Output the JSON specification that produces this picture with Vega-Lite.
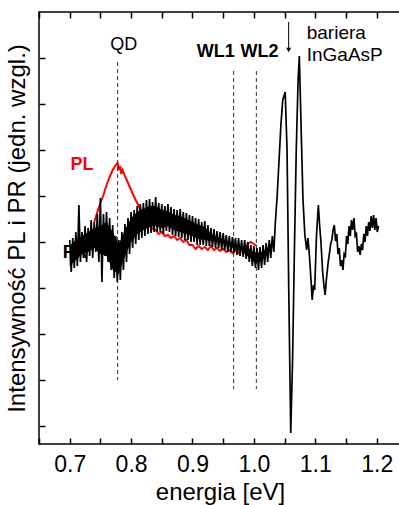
{
  "$schema": "https://vega.github.io/schema/vega-lite/v6.json",
  "width": 362,
  "height": 432,
  "autosize": "none",
  "padding": {"left": 39, "top": 12, "right": -2, "bottom": 61},
  "resolve": {"axis": {"x": "independent", "y": "independent"}},
  "config": {
    "view": {"stroke": "black", "strokeWidth": 1.5},
    "font": "Liberation Sans",
    "axis": {"domainColor": "black", "domainWidth": 1.5, "tickColor": "black", "tickWidth": 1.5, "tickOpacity": 1, "grid": false,
             "labelFont": "Liberation Sans", "titleFont": "Liberation Sans", "labelColor": "black", "titleColor": "black", "titleFontWeight": "normal"}
  },
  "datasets": {
    "pr": [
      {"e":0.700,"v":186},{"e":0.7025,"v":154},{"e":0.705,"v":188},{"e":0.7075,"v":158},{"e":0.710,"v":194},{"e":0.7125,"v":160},
      {"e":0.715,"v":221},{"e":0.7175,"v":164},{"e":0.720,"v":194},{"e":0.7225,"v":168},{"e":0.725,"v":200},{"e":0.7275,"v":164},
      {"e":0.730,"v":198},{"e":0.7325,"v":170},{"e":0.735,"v":206},{"e":0.7375,"v":168},{"e":0.740,"v":204},{"e":0.7425,"v":174},
      {"e":0.745,"v":212},{"e":0.7475,"v":164},{"e":0.750,"v":228},{"e":0.7525,"v":144},{"e":0.755,"v":212},{"e":0.7575,"v":170},
      {"e":0.760,"v":214},{"e":0.7625,"v":164},{"e":0.765,"v":208},{"e":0.7675,"v":156},{"e":0.770,"v":201},{"e":0.7725,"v":148},
      {"e":0.775,"v":190},{"e":0.7775,"v":144},{"e":0.780,"v":186},{"e":0.7825,"v":146},{"e":0.785,"v":194},{"e":0.7875,"v":156},
      {"e":0.790,"v":202},{"e":0.7925,"v":164},{"e":0.795,"v":208},{"e":0.7975,"v":172},{"e":0.800,"v":214},{"e":0.8025,"v":178},
      {"e":0.805,"v":216},{"e":0.8075,"v":182},{"e":0.810,"v":220},{"e":0.8125,"v":186},{"e":0.815,"v":222},{"e":0.8175,"v":188},
      {"e":0.820,"v":223},{"e":0.8225,"v":190},{"e":0.825,"v":226},{"e":0.8275,"v":192},{"e":0.830,"v":227},{"e":0.8325,"v":193},
      {"e":0.835,"v":224},{"e":0.8375,"v":194},{"e":0.840,"v":229},{"e":0.8425,"v":194},{"e":0.845,"v":223},{"e":0.8475,"v":194},
      {"e":0.850,"v":222},{"e":0.8525,"v":192},{"e":0.855,"v":220},{"e":0.8575,"v":195},{"e":0.860,"v":222},{"e":0.8625,"v":194},
      {"e":0.865,"v":219},{"e":0.8675,"v":191},{"e":0.870,"v":217},{"e":0.8725,"v":190},{"e":0.875,"v":216},{"e":0.8775,"v":189},
      {"e":0.880,"v":217},{"e":0.8825,"v":188},{"e":0.885,"v":214},{"e":0.8875,"v":186},{"e":0.890,"v":213},{"e":0.8925,"v":186},
      {"e":0.895,"v":211},{"e":0.8975,"v":184},{"e":0.900,"v":210},{"e":0.9025,"v":184},{"e":0.905,"v":208},{"e":0.9075,"v":181},
      {"e":0.910,"v":207},{"e":0.9125,"v":181},{"e":0.915,"v":204},{"e":0.9175,"v":181},{"e":0.920,"v":205},{"e":0.9225,"v":180},
      {"e":0.925,"v":201},{"e":0.9275,"v":180},{"e":0.930,"v":198},{"e":0.9325,"v":179},{"e":0.935,"v":197},{"e":0.9375,"v":178},
      {"e":0.940,"v":195},{"e":0.9425,"v":178},{"e":0.945,"v":194},{"e":0.9475,"v":176},{"e":0.950,"v":193},{"e":0.9525,"v":176},
      {"e":0.955,"v":191},{"e":0.9575,"v":174},{"e":0.960,"v":190},{"e":0.9625,"v":174},{"e":0.965,"v":189},{"e":0.9675,"v":173},
      {"e":0.970,"v":188},{"e":0.9725,"v":171},{"e":0.975,"v":188},{"e":0.9775,"v":170},{"e":0.980,"v":186},{"e":0.9825,"v":169},
      {"e":0.985,"v":186},{"e":0.9875,"v":167},{"e":0.990,"v":184},{"e":0.9925,"v":164},{"e":0.995,"v":181},{"e":0.9975,"v":160},
      {"e":1.000,"v":180},{"e":1.0025,"v":158},{"e":1.005,"v":178},{"e":1.0075,"v":156},{"e":1.010,"v":179},{"e":1.0125,"v":158},
      {"e":1.015,"v":181},{"e":1.0175,"v":161},{"e":1.020,"v":183},{"e":1.0225,"v":164},{"e":1.025,"v":186},{"e":1.0275,"v":168},
      {"e":1.030,"v":190},{"e":1.0325,"v":174},
      {"e":1.035,"v":204},{"e":1.038,"v":231},{"e":1.041,"v":266},{"e":1.044,"v":301},{"e":1.047,"v":326},{"e":1.051,"v":334},
      {"e":1.054,"v":276},{"e":1.057,"v":126},{"e":1.060,"v":-7},{"e":1.063,"v":66},{"e":1.066,"v":176},{"e":1.069,"v":276},
      {"e":1.072,"v":346},{"e":1.074,"v":370},{"e":1.077,"v":296},{"e":1.080,"v":226},{"e":1.083,"v":191},{"e":1.086,"v":176},
      {"e":1.088,"v":188},{"e":1.090,"v":174},{"e":1.092,"v":156},{"e":1.095,"v":126},{"e":1.097,"v":141},{"e":1.099,"v":136},
      {"e":1.102,"v":191},{"e":1.105,"v":221},{"e":1.107,"v":201},{"e":1.109,"v":186},{"e":1.112,"v":154},{"e":1.114,"v":141},
      {"e":1.116,"v":131},{"e":1.118,"v":146},{"e":1.121,"v":164},{"e":1.123,"v":172},{"e":1.125,"v":182},{"e":1.127,"v":186},
      {"e":1.129,"v":196},{"e":1.131,"v":201},{"e":1.133,"v":185},{"e":1.135,"v":192},{"e":1.137,"v":172},{"e":1.139,"v":178},
      {"e":1.141,"v":160},{"e":1.143,"v":166},{"e":1.145,"v":156},{"e":1.147,"v":172},{"e":1.149,"v":170},{"e":1.151,"v":190},
      {"e":1.153,"v":182},{"e":1.155,"v":200},{"e":1.157,"v":190},{"e":1.159,"v":206},{"e":1.161,"v":196},{"e":1.163,"v":208},
      {"e":1.165,"v":190},{"e":1.167,"v":192},{"e":1.169,"v":174},{"e":1.171,"v":180},{"e":1.173,"v":171},{"e":1.175,"v":182},
      {"e":1.177,"v":176},{"e":1.179,"v":192},{"e":1.181,"v":184},{"e":1.183,"v":200},{"e":1.185,"v":190},{"e":1.187,"v":204},
      {"e":1.189,"v":195},{"e":1.191,"v":210},{"e":1.193,"v":198},{"e":1.195,"v":211},{"e":1.197,"v":196},{"e":1.199,"v":208},
      {"e":1.201,"v":194},{"e":1.203,"v":200}
    ],
    "band": [
      {"e":0.70,"hi":180,"lo":160},{"e":0.71,"hi":186,"lo":166},{"e":0.72,"hi":190,"lo":172},{"e":0.73,"hi":194,"lo":174},
      {"e":0.74,"hi":198,"lo":178},{"e":0.75,"hi":200,"lo":172},{"e":0.76,"hi":204,"lo":170},{"e":0.77,"hi":194,"lo":156},
      {"e":0.78,"hi":182,"lo":152},{"e":0.79,"hi":196,"lo":170},{"e":0.80,"hi":208,"lo":184},{"e":0.81,"hi":214,"lo":192},
      {"e":0.82,"hi":217,"lo":196},{"e":0.83,"hi":220,"lo":199},{"e":0.84,"hi":220,"lo":200},{"e":0.85,"hi":216,"lo":198},
      {"e":0.86,"hi":215,"lo":200},{"e":0.87,"hi":211,"lo":196},{"e":0.88,"hi":210,"lo":194},{"e":0.89,"hi":207,"lo":192},
      {"e":0.90,"hi":204,"lo":190},{"e":0.91,"hi":201,"lo":187},{"e":0.92,"hi":199,"lo":186},{"e":0.93,"hi":192,"lo":185},
      {"e":0.94,"hi":189,"lo":184},{"e":0.95,"hi":187,"lo":182},{"e":0.96,"hi":184,"lo":180},{"e":0.97,"hi":182,"lo":177},
      {"e":0.98,"hi":180,"lo":175},{"e":0.99,"hi":178,"lo":170},{"e":1.00,"hi":174,"lo":164},{"e":1.01,"hi":173,"lo":164},
      {"e":1.02,"hi":177,"lo":170},{"e":1.03,"hi":184,"lo":180}
    ],
    "pl": [
      {"e":0.740,"v":204},{"e":0.745,"v":214},{"e":0.750,"v":223},{"e":0.755,"v":231},{"e":0.760,"v":241},{"e":0.765,"v":249},
      {"e":0.770,"v":256},{"e":0.775,"v":261},{"e":0.778,"v":263},{"e":0.780,"v":256},{"e":0.782,"v":260},{"e":0.784,"v":252},
      {"e":0.786,"v":256},{"e":0.790,"v":250},{"e":0.795,"v":243},{"e":0.800,"v":236},{"e":0.805,"v":229},{"e":0.810,"v":223},
      {"e":0.815,"v":217},{"e":0.820,"v":211},{"e":0.825,"v":205},{"e":0.830,"v":201},{"e":0.835,"v":197},{"e":0.840,"v":196},
      {"e":0.845,"v":192},{"e":0.850,"v":194},{"e":0.855,"v":190},{"e":0.860,"v":191},{"e":0.865,"v":188},{"e":0.870,"v":190},
      {"e":0.875,"v":186},{"e":0.880,"v":188},{"e":0.885,"v":184},{"e":0.890,"v":186},{"e":0.895,"v":181},{"e":0.900,"v":181},
      {"e":0.905,"v":177},{"e":0.910,"v":180},{"e":0.915,"v":177},{"e":0.920,"v":179},{"e":0.925,"v":176},{"e":0.930,"v":180},
      {"e":0.935,"v":176},{"e":0.940,"v":178},{"e":0.945,"v":175},{"e":0.950,"v":177},{"e":0.955,"v":174},{"e":0.960,"v":176},
      {"e":0.965,"v":173},{"e":0.970,"v":176},{"e":0.975,"v":173},{"e":0.980,"v":177},{"e":0.985,"v":176},{"e":0.990,"v":182},
      {"e":0.995,"v":184},{"e":1.000,"v":182},{"e":1.005,"v":180}
    ],
    "marks": [
      {"e":0.778,"v1":364,"v2":46},
      {"e":0.967,"v1":355,"v2":37},
      {"e":1.004,"v1":355,"v2":37}
    ],
    "lab_normal_c": [{"t":"QD","e":0.788,"v":381}],
    "lab_bold_c": [{"t":"WL1","e":0.938,"v":374},{"t":"WL2","e":1.009,"v":374}],
    "lab_normal_l": [{"t":"bariera","e":1.086,"v":393},{"t":"InGaAsP","e":1.086,"v":371}],
    "lab_pl": [{"t":"PL","e":0.720,"v":261}],
    "arrow": [{"e":1.0566,"v1":404,"v2":376}],
    "prlabel": [{"t":"PR","e":0.6885,"v":173}]
  },
  "layer": [
    {
      "data": {"name": "pl"},
      "mark": {"type": "line", "color": "red", "strokeWidth": 2, "clip": true},
      "encoding": {
        "x": {"field": "e", "type": "quantitative", "scale": {"domain": [0.65, 1.2396], "nice": false, "zero": false},
              "axis": {"orient": "top", "labels": false, "title": null, "domain": false, "tickCount": 12, "tickSize": 6, "offset": -6, "zindex": 1}},
        "y": {"field": "v", "type": "quantitative", "scale": {"domain": [-18, 414], "nice": false, "zero": false}, "axis": null}
      }
    },
    {
      "data": {"name": "prlabel"},
      "mark": {"type": "text", "font": "Liberation Sans", "fontSize": 18, "fontWeight": "bold", "align": "left", "baseline": "middle", "color": "black"},
      "encoding": {
        "x": {"field": "e", "type": "quantitative", "axis": null},
        "y": {"field": "v", "type": "quantitative", "axis": null},
        "text": {"field": "t"}
      }
    },
    {
      "data": {"name": "marks"},
      "mark": {"type": "rule", "strokeDash": [4, 3], "color": "#333333", "strokeWidth": 1},
      "encoding": {
        "x": {"field": "e", "type": "quantitative", "axis": null},
        "y": {"field": "v1", "type": "quantitative", "axis": null},
        "y2": {"field": "v2"}
      }
    },
    {
      "data": {"name": "band"},
      "mark": {"type": "area", "color": "black", "opacity": 1},
      "encoding": {
        "x": {"field": "e", "type": "quantitative", "axis": null},
        "y": {"field": "lo", "type": "quantitative", "axis": null},
        "y2": {"field": "hi"}
      }
    },
    {
      "data": {"name": "pr"},
      "mark": {"type": "line", "color": "black", "strokeWidth": 1.7, "clip": true},
      "encoding": {
        "x": {"field": "e", "type": "quantitative",
              "axis": {"orient": "bottom", "title": "energia [eV]", "tickCount": 12, "zindex": 1,
                       "labelExpr": "round(datum.value*100) % 10 == 0 ? format(datum.value, '.1f') : ''",
                       "domain": false, "tickSize": 6, "offset": -6, "labelPadding": 9, "labelFontSize": 23, "titleFontSize": 24, "titlePadding": 4, "labelFlush": false, "labelOverlap": false}},
        "y": {"field": "v", "type": "quantitative",
              "axis": {"orient": "left", "title": "Intensywność PL i PR (jedn. wzgl.)", "labels": false, "domain": false, "zindex": 1,
                       "values": [0,46,92,138,184,230,276,322,368], "tickSize": 6, "offset": -6,
                       "titleFontSize": 24, "titlePadding": 9}}
      }
    },
    {
      "data": {"name": "arrow"},
      "mark": {"type": "rule", "color": "black", "strokeWidth": 1},
      "encoding": {
        "x": {"field": "e", "type": "quantitative", "axis": null},
        "y": {"field": "v1", "type": "quantitative", "axis": null},
        "y2": {"field": "v2"}
      }
    },
    {
      "data": {"name": "arrow"},
      "mark": {"type": "point", "shape": "triangle-down", "filled": true, "color": "black", "size": 25, "opacity": 1},
      "encoding": {
        "x": {"field": "e", "type": "quantitative", "axis": null},
        "y": {"field": "v2", "type": "quantitative", "axis": null}
      }
    },
    {
      "data": {"name": "lab_normal_c"},
      "mark": {"type": "text", "font": "Liberation Sans", "fontSize": 18, "baseline": "middle", "align": "center", "color": "black"},
      "encoding": {
        "x": {"field": "e", "type": "quantitative", "axis": null},
        "y": {"field": "v", "type": "quantitative", "axis": null},
        "text": {"field": "t"}
      }
    },
    {
      "data": {"name": "lab_bold_c"},
      "mark": {"type": "text", "font": "Liberation Sans", "fontSize": 18, "fontWeight": "bold", "baseline": "middle", "align": "center", "color": "black"},
      "encoding": {
        "x": {"field": "e", "type": "quantitative", "axis": null},
        "y": {"field": "v", "type": "quantitative", "axis": null},
        "text": {"field": "t"}
      }
    },
    {
      "data": {"name": "lab_normal_l"},
      "mark": {"type": "text", "font": "Liberation Sans", "fontSize": 19, "baseline": "middle", "align": "left", "color": "black"},
      "encoding": {
        "x": {"field": "e", "type": "quantitative", "axis": null},
        "y": {"field": "v", "type": "quantitative", "axis": null},
        "text": {"field": "t"}
      }
    },
    {
      "data": {"name": "lab_pl"},
      "mark": {"type": "text", "font": "Liberation Sans", "fontSize": 18, "fontWeight": "bold", "baseline": "middle", "align": "center", "color": "red"},
      "encoding": {
        "x": {"field": "e", "type": "quantitative", "axis": null},
        "y": {"field": "v", "type": "quantitative", "axis": null},
        "text": {"field": "t"}
      }
    }
  ]
}
